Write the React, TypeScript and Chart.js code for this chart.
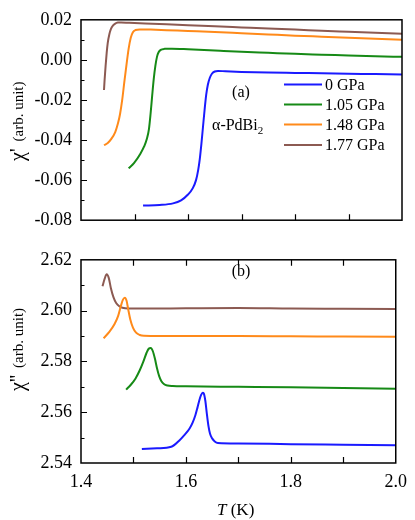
import React, { useEffect, useRef } from "react";
import { Chart, registerables } from "chart.js";

Chart.register(...registerables);

// ---------- data ----------
const seriesLabels = ["0 GPa", "1.05 GPa", "1.48 GPa", "1.77 GPa"];
const seriesColors = ["#1a1aff", "#168a16", "#ff8a1a", "#8c5a52"];

// chi' (top panel)
const T_re_0 = [1.516, 1.547, 1.572, 1.587, 1.600, 1.609, 1.615, 1.619, 1.622, 1.625, 1.628, 1.631, 1.634, 1.637, 1.641, 1.645, 1.650, 1.656, 1.67, 1.70, 1.75, 1.80, 1.85, 1.90, 1.95, 2.00];
const chiRe_0 = [-0.0727, -0.0724, -0.0716, -0.0701, -0.0672, -0.0640, -0.0600, -0.0550, -0.0495, -0.0420, -0.0335, -0.0250, -0.0175, -0.0125, -0.0088, -0.0068, -0.0058, -0.0055, -0.0057, -0.0060, -0.0063, -0.0065, -0.0067, -0.0069, -0.0071, -0.0073];

const T_re_105 = [1.489, 1.499, 1.511, 1.518, 1.523, 1.527, 1.530, 1.533, 1.536, 1.539, 1.542, 1.545, 1.549, 1.556, 1.57, 1.60, 1.63, 1.66, 1.70, 1.75, 1.80, 1.85, 1.90, 1.95, 2.00];
const chiRe_105 = [-0.0541, -0.0515, -0.0468, -0.0432, -0.0395, -0.0345, -0.0270, -0.0180, -0.0095, -0.0030, 0.0015, 0.0038, 0.0050, 0.0055, 0.0056, 0.0053, 0.0049, 0.0045, 0.0040, 0.0035, 0.0030, 0.0026, 0.0022, 0.0018, 0.0015];

const T_re_148 = [1.443, 1.450, 1.457, 1.464, 1.469, 1.473, 1.477, 1.481, 1.485, 1.489, 1.493, 1.497, 1.502, 1.510, 1.53, 1.56, 1.60, 1.65, 1.70, 1.75, 1.80, 1.85, 1.90, 1.95, 2.00];
const chiRe_148 = [-0.0426, -0.0415, -0.0393, -0.0360, -0.0318, -0.0270, -0.0200, -0.0110, -0.0025, 0.0055, 0.0110, 0.0138, 0.0149, 0.0152, 0.0151, 0.0148, 0.0144, 0.0139, 0.0133, 0.0127, 0.0121, 0.0116, 0.0111, 0.0106, 0.0101];

const T_re_177 = [1.443, 1.444, 1.446, 1.448, 1.450, 1.453, 1.456, 1.460, 1.464, 1.469, 1.475, 1.49, 1.52, 1.56, 1.60, 1.65, 1.70, 1.75, 1.80, 1.85, 1.90, 1.95, 2.00];
const chiRe_177 = [-0.0150, -0.0105, -0.0030, 0.0035, 0.0085, 0.0128, 0.0155, 0.0172, 0.0181, 0.0186, 0.0187, 0.0185, 0.0182, 0.0178, 0.0173, 0.0168, 0.0162, 0.0156, 0.0151, 0.0145, 0.0140, 0.0135, 0.0130];

// chi'' (bottom panel)
const T_im_0 = [1.516, 1.545, 1.572, 1.587, 1.597, 1.607, 1.613, 1.618, 1.622, 1.626, 1.629, 1.632, 1.634, 1.637, 1.640, 1.643, 1.646, 1.650, 1.655, 1.661, 1.70, 1.80, 1.90, 2.00];
const chiIm_0 = [2.5455, 2.5458, 2.5464, 2.5488, 2.5510, 2.5536, 2.5560, 2.5588, 2.5618, 2.5650, 2.5668, 2.5677, 2.5674, 2.5645, 2.5592, 2.5545, 2.5515, 2.5497, 2.5485, 2.5479, 2.5477, 2.5474, 2.5472, 2.5470];

const T_im_105 = [1.486, 1.495, 1.504, 1.512, 1.519, 1.525, 1.529, 1.533, 1.537, 1.541, 1.545, 1.549, 1.553, 1.558, 1.565, 1.575, 1.60, 1.70, 1.80, 1.90, 2.00];
const chiIm_105 = [2.5689, 2.5708, 2.5733, 2.5765, 2.5800, 2.5834, 2.5850, 2.5853, 2.5840, 2.5810, 2.5772, 2.5742, 2.5723, 2.5711, 2.5705, 2.5703, 2.5702, 2.5700, 2.5698, 2.5695, 2.5692];

const T_im_148 = [1.443, 1.454, 1.464, 1.471, 1.476, 1.480, 1.4835, 1.487, 1.490, 1.494, 1.499, 1.505, 1.512, 1.52, 1.55, 1.60, 1.70, 1.80, 1.90, 2.00];
const chiIm_148 = [2.5891, 2.5916, 2.5947, 2.5980, 2.6018, 2.6043, 2.6051, 2.6038, 2.6005, 2.5965, 2.5933, 2.5913, 2.5904, 2.5901, 2.5900, 2.5900, 2.5900, 2.5899, 2.5898, 2.5897];

const T_im_177 = [1.441, 1.445, 1.449, 1.453, 1.457, 1.462, 1.467, 1.473, 1.479, 1.49, 1.52, 1.60, 1.70, 1.80, 1.90, 2.00];
const chiIm_177 = [2.6096, 2.6125, 2.6143, 2.6128, 2.6088, 2.6052, 2.6030, 2.6017, 2.6011, 2.6008, 2.6008, 2.6009, 2.6010, 2.6008, 2.6007, 2.6006];

const xTickLabels = [1.4, 1.6, 1.8, 2.0];
const xTickMarks = [1.5, 1.6, 1.7, 1.8, 1.9];
const yTopMajor = [-0.06, -0.04, -0.02, 0.0];
const yTopMinor = [-0.07, -0.05, -0.03, -0.01, 0.01];
const yBotMajor = [2.56, 2.58, 2.60];
const yBotMinor = [2.55, 2.57, 2.59, 2.61];

const FONT = "'Liberation Serif', 'Times New Roman', serif";
Chart.defaults.font.family = FONT;
Chart.defaults.color = "#000";

function zip(xs: number[], ys: number[]) {
  return xs.map((x, i) => ({ x, y: ys[i] }));
}

function makeDatasets(pairs: [number[], number[]][]) {
  return pairs.map(([xs, ys], i) => ({
    label: seriesLabels[i],
    data: zip(xs, ys),
    borderColor: seriesColors[i],
    backgroundColor: seriesColors[i],
    borderWidth: 2,
    pointRadius: 0,
    cubicInterpolationMode: "monotone" as const,
    fill: false,
  }));
}

function framePlugin(cfg: { yMajor: number[]; yMinor: number[]; topTicks: boolean }) {
  return {
    id: "frameTicks",
    afterDatasetsDraw(chart: any) {
      const { ctx, chartArea: a, scales } = chart;
      const x = scales.x, y = scales.y;
      ctx.save();
      ctx.strokeStyle = "#000";
      ctx.lineWidth = 1.5;
      ctx.strokeRect(a.left, a.top, a.right - a.left, a.bottom - a.top);
      ctx.lineWidth = 1.2;
      ctx.beginPath();
      for (const t of xTickMarks) {
        const px = Math.round(x.getPixelForValue(t)) + 0.5;
        ctx.moveTo(px, a.bottom);
        ctx.lineTo(px, a.bottom - 6);
        if (cfg.topTicks) {
          ctx.moveTo(px, a.top);
          ctx.lineTo(px, a.top + 6);
        }
      }
      for (const v of cfg.yMajor) {
        const py = Math.round(y.getPixelForValue(v)) + 0.5;
        ctx.moveTo(a.left, py);
        ctx.lineTo(a.left + 6, py);
      }
      for (const v of cfg.yMinor) {
        const py = Math.round(y.getPixelForValue(v)) + 0.5;
        ctx.moveTo(a.left, py);
        ctx.lineTo(a.left + 3.5, py);
      }
      ctx.stroke();
      ctx.restore();
    },
  };
}

function yTitlePlugin(symbol: string, baseX: number, startY: number) {
  return {
    id: "yTitle",
    afterDraw(chart: any) {
      const ctx = chart.ctx;
      ctx.save();
      ctx.translate(baseX, startY);
      ctx.rotate(-Math.PI / 2);
      ctx.fillStyle = "#000";
      ctx.textBaseline = "alphabetic";
      ctx.textAlign = "left";
      ctx.font = `20px ${FONT}`;
      ctx.fillText(symbol, 0, 0);
      const w = ctx.measureText(symbol).width;
      ctx.font = `15px ${FONT}`;
      ctx.fillText("(arb. unit)", w + 7, -1);
      ctx.restore();
    },
  };
}

const topAnnotPlugin = {
  id: "topAnnot",
  afterDraw(chart: any) {
    const ctx = chart.ctx;
    ctx.save();
    ctx.fillStyle = "#000";
    ctx.font = `16px ${FONT}`;
    ctx.textBaseline = "middle";
    const rows = [84.5, 104.5, 124.5, 145];
    chart.data.datasets.forEach((ds: any, i: number) => {
      ctx.strokeStyle = ds.borderColor;
      ctx.lineWidth = 2;
      ctx.beginPath();
      ctx.moveTo(284, rows[i]);
      ctx.lineTo(322, rows[i]);
      ctx.stroke();
      ctx.textAlign = "left";
      ctx.fillText(ds.label, 325, rows[i] + 1);
    });
    ctx.textAlign = "center";
    ctx.fillText("(a)", 241, 93);
    ctx.textAlign = "left";
    ctx.fillText("\u03B1-PdBi", 212, 126);
    const w = ctx.measureText("\u03B1-PdBi").width;
    ctx.font = `11px ${FONT}`;
    ctx.fillText("2", 212 + w, 131);
    ctx.restore();
  },
};

const botAnnotPlugin = {
  id: "botAnnot",
  afterDraw(chart: any) {
    const ctx = chart.ctx;
    ctx.save();
    ctx.fillStyle = "#000";
    ctx.font = `16px ${FONT}`;
    ctx.textBaseline = "middle";
    ctx.textAlign = "center";
    ctx.fillText("(b)", 241, 32);
    ctx.textBaseline = "alphabetic";
    ctx.textAlign = "left";
    ctx.font = `italic 17px ${FONT}`;
    ctx.fillText("T", 217, 275);
    const w = ctx.measureText("T").width;
    ctx.font = `17px ${FONT}`;
    ctx.fillText(" (K)", 217 + w, 275);
    ctx.restore();
  },
};

export default function App() {
  const topRef = useRef<HTMLCanvasElement>(null);
  const botRef = useRef<HTMLCanvasElement>(null);

  useEffect(() => {
    const tickFont = { family: FONT, size: 18 };
    const noGrid = { display: false, drawTicks: false };
    const top = new Chart(topRef.current as HTMLCanvasElement, {
      type: "line",
      data: {
        datasets: makeDatasets([
          [T_re_0, chiRe_0],
          [T_re_105, chiRe_105],
          [T_re_148, chiRe_148],
          [T_re_177, chiRe_177],
        ]) as any,
      },
      options: {
        responsive: false,
        animation: false,
        devicePixelRatio: 1,
        layout: { padding: { left: 0, right: 13, top: 13, bottom: 0 } },
        plugins: { legend: { display: false }, tooltip: { enabled: false } },
        scales: {
          x: {
            type: "linear",
            min: 1.4,
            max: 2.0,
            grid: noGrid,
            border: { display: false },
            ticks: { display: false },
            afterFit: (s: any) => { s.height = 12; },
          },
          y: {
            type: "linear",
            min: -0.08,
            max: 0.02,
            grid: noGrid,
            border: { display: false },
            ticks: {
              stepSize: 0.02,
              font: tickFont,
              color: "#000",
              padding: 9,
              callback: (v: any) => Number(v).toFixed(2),
            },
            afterFit: (s: any) => { s.width = 81; },
          },
        },
      },
      plugins: [
        framePlugin({ yMajor: yTopMajor, yMinor: yTopMinor, topTicks: false }),
        yTitlePlugin("\u03C7'", 24, 161),
        topAnnotPlugin,
      ],
    });

    const bot = new Chart(botRef.current as HTMLCanvasElement, {
      type: "line",
      data: {
        datasets: makeDatasets([
          [T_im_0, chiIm_0],
          [T_im_105, chiIm_105],
          [T_im_148, chiIm_148],
          [T_im_177, chiIm_177],
        ]) as any,
      },
      options: {
        responsive: false,
        animation: false,
        devicePixelRatio: 1,
        layout: { padding: { left: 0, right: 13, top: 9, bottom: 0 } },
        plugins: { legend: { display: false }, tooltip: { enabled: false } },
        scales: {
          x: {
            type: "linear",
            min: 1.4,
            max: 2.0,
            grid: noGrid,
            border: { display: false },
            afterBuildTicks: (s: any) => { s.ticks = xTickLabels.map((v) => ({ value: v })); },
            ticks: {
              font: tickFont,
              color: "#000",
              padding: 8,
              maxRotation: 0,
              autoSkip: false,
              callback: (v: any) => Number(v).toFixed(1),
            },
            afterFit: (s: any) => { s.height = 57; },
          },
          y: {
            type: "linear",
            min: 2.54,
            max: 2.62,
            grid: noGrid,
            border: { display: false },
            ticks: {
              stepSize: 0.02,
              font: tickFont,
              color: "#000",
              padding: 9,
              callback: (v: any) => Number(v).toFixed(2),
            },
            afterFit: (s: any) => { s.width = 81; },
          },
        },
      },
      plugins: [
        framePlugin({ yMajor: yBotMajor, yMinor: yBotMinor, topTicks: true }),
        yTitlePlugin("\u03C7''", 24, 151),
        botAnnotPlugin,
      ],
    });

    return () => {
      top.destroy();
      bot.destroy();
    };
  }, []);

  return (
    <div style={{ position: "absolute", left: 0, top: 0, width: 415, height: 520, background: "#fff" }}>
      <canvas ref={topRef} width={415} height={240} style={{ position: "absolute", left: 0, top: 0 }} />
      <canvas ref={botRef} width={415} height={280} style={{ position: "absolute", left: 0, top: 240 }} />
    </div>
  );
}
